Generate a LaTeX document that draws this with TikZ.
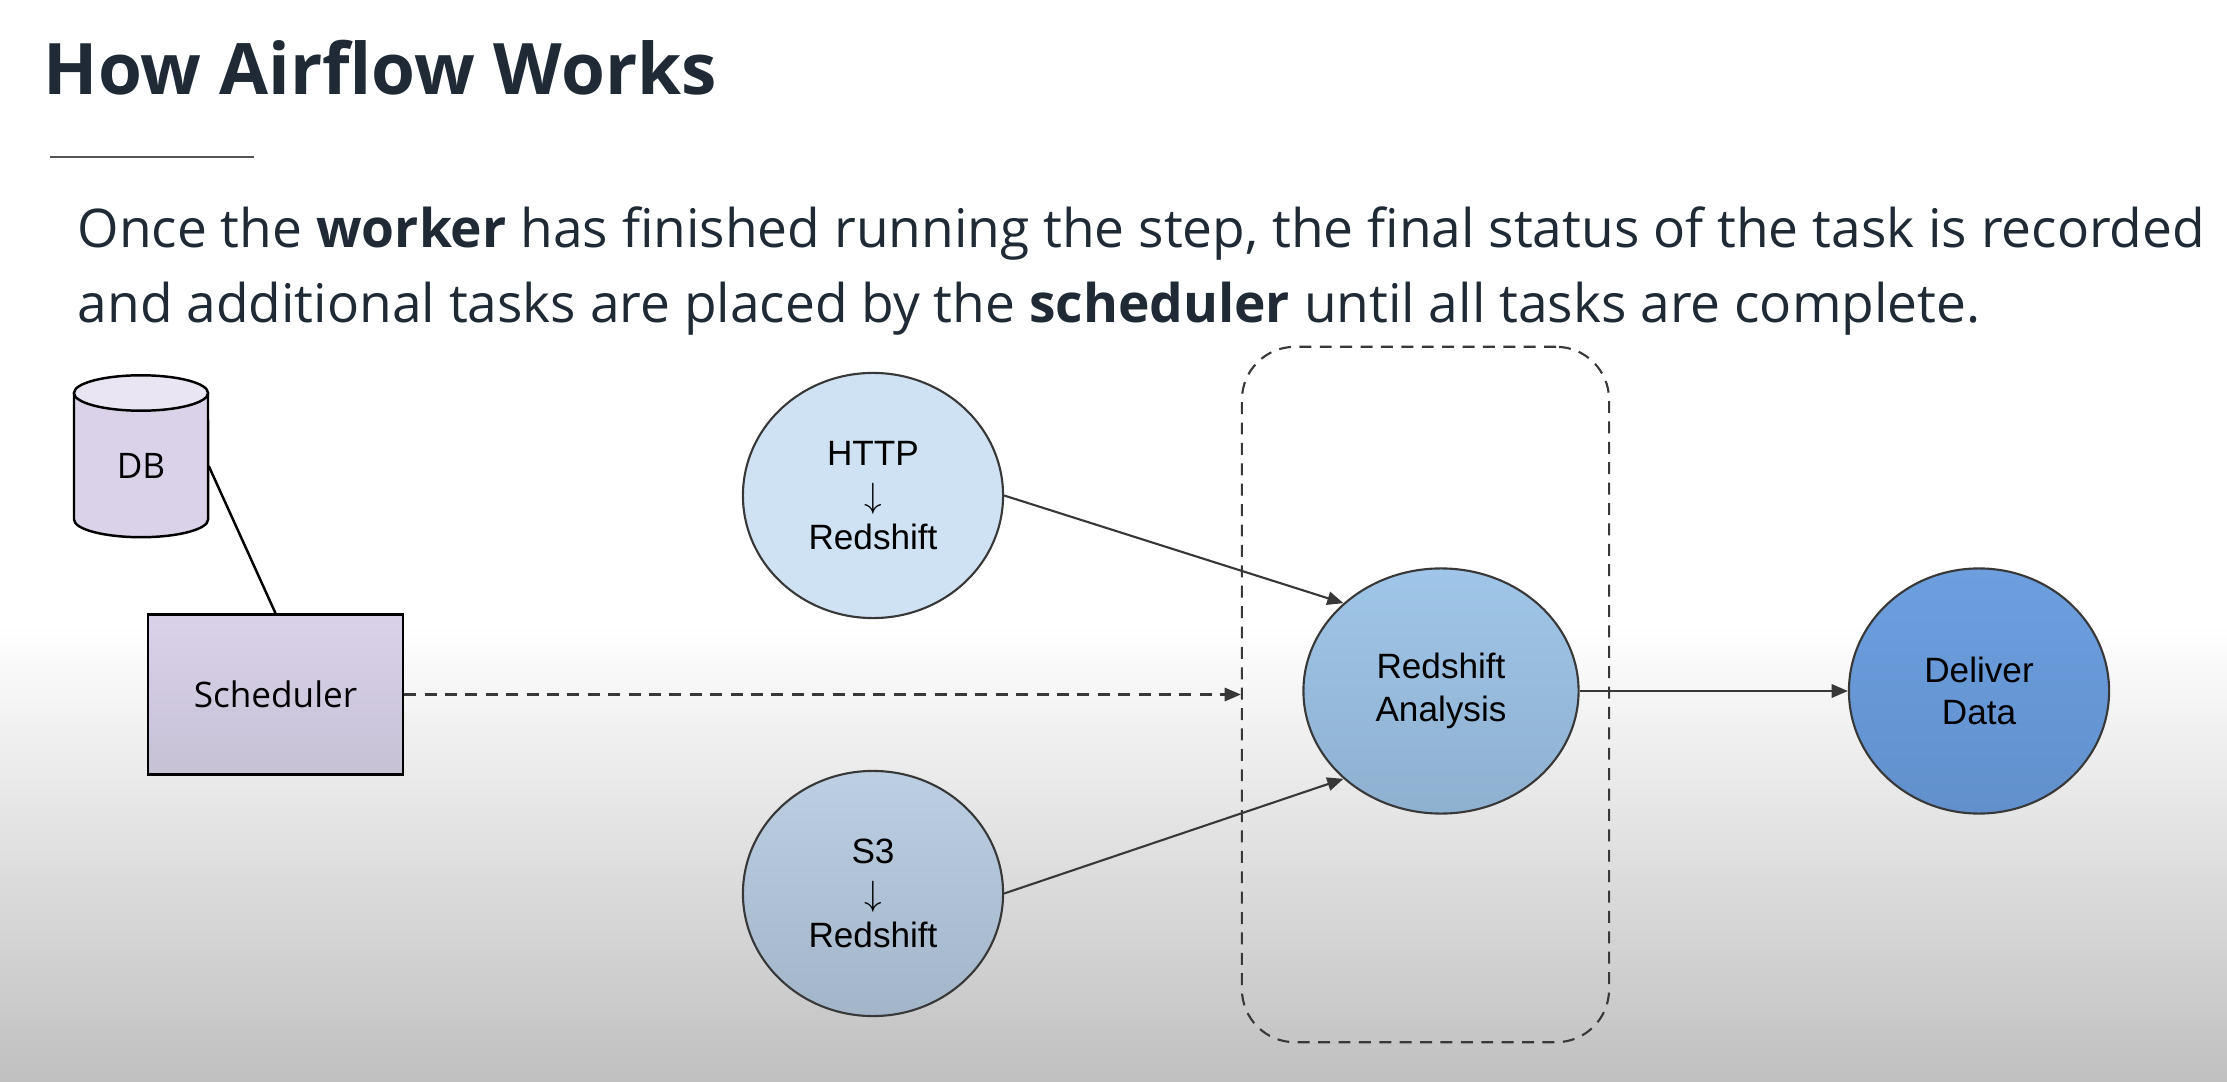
\documentclass[tikz,border=0pt]{standalone}
\usepackage{fontspec}
\setmainfont{Open Sans}
\newfontfamily\arialfont{Liberation Sans}
\usepackage{tikz}
\usetikzlibrary{arrows.meta,shapes.geometric,positioning}
\definecolor{slidetext}{HTML}{1F2A36}
\definecolor{bggray}{HTML}{C0C0C0}
\definecolor{linegray}{HTML}{383838}
\definecolor{rulegray}{HTML}{555555}
\definecolor{lavender}{HTML}{D9D2E9}
\definecolor{lavenderlow}{HTML}{C7C1D6}
\definecolor{lavendertop}{HTML}{E9E5F3}
\definecolor{httpblue}{HTML}{CFE2F3}
\definecolor{sthreetop}{HTML}{BCCFE3}
\definecolor{sthreelow}{HTML}{A3B5C8}
\definecolor{analysistop}{HTML}{9FC5E8}
\definecolor{analysislow}{HTML}{8FB1D0}
\definecolor{delivertop}{HTML}{6D9FDF}
\definecolor{deliverlow}{HTML}{6190CC}
\tikzstyle{headline}   = [anchor=base west, inner sep=0pt, text=slidetext]
\tikzstyle{dblabel}    = [minimum width=1.34cm, minimum height=0.6cm, inner sep=0pt, font=\fontsize{10}{12}\selectfont]
\tikzstyle{schedbox}   = [rectangle, draw=black, line width=0.7pt, minimum width=2.55cm, minimum height=1.6cm, top color=lavender, bottom color=lavenderlow, font=\fontsize{10}{12}\selectfont]
\tikzstyle{taskcircle} = [ellipse, draw=linegray, line width=0.6pt, minimum width=2.6cm, minimum height=2.45cm, inner sep=0pt, align=center, font=\arialfont\fontsize{10}{12}\selectfont]
\tikzstyle{workerbox}  = [rectangle, draw=linegray, line width=0.6pt, dash pattern=on 3.4pt off 2.4pt, rounded corners=0.53cm, minimum width=3.67cm, minimum height=6.95cm]
\tikzstyle{taskarrow}  = [draw=linegray, line width=0.6pt, -{Triangle[length=4.6pt, width=3.8pt]}]
\tikzstyle{schedarrow} = [taskarrow, dash pattern=on 3.4pt off 2.4pt]
\begin{document}
\begin{tikzpicture}[x=0.01cm, y=0.01cm]
		\useasboundingbox (0,0) rectangle (2227,1081);
		\fill[white] (0,0) rectangle (2227,1081);
		\shade[top color=white, bottom color=bggray] (0,0) rectangle (2227,456);

		\node[headline] (title) at (43,986) {\fontsize{20.2}{24}\selectfont\bfseries How Airflow Works};
		\draw[rulegray, line width=0.6pt] (50,924) -- (254,924);
		\node[headline] (lineone) at (77,833) {\fontsize{15.15}{18}\selectfont Once the \textbf{worker} has finished running the step, the final status of the task is recorded};
		\node[headline] (linetwo) at (77,758) {\fontsize{15.15}{18}\selectfont and additional tasks are placed by the \textbf{scheduler} until all tasks are complete.};

		\fill[lavender] (74,688) rectangle (208,561.5);
		\fill[lavender] (141,561.5) ellipse [x radius=0.67cm, y radius=0.177cm];
		\draw[line width=0.7pt] (74,688) -- (74,561.5) arc[start angle=180, end angle=360, x radius=0.67cm, y radius=0.177cm] -- (208,688);
		\draw[line width=0.7pt, fill=lavendertop] (141,688) ellipse [x radius=0.67cm, y radius=0.177cm];
		\node[dblabel] (db) at (141,615) {DB};
		\node[schedbox] (sched) at (275.5,386.5) {Scheduler};

		\node[taskcircle, fill=httpblue] (http) at (873,585.5) {HTTP\\$\downarrow$\\Redshift};
		\node[taskcircle, top color=sthreetop, bottom color=sthreelow] (s3) at (873,187.5) {S3\\$\downarrow$\\Redshift};
		\node[workerbox] (worker) at (1425.5,386.5) {};
		\node[taskcircle, minimum width=2.75cm, top color=analysistop, bottom color=analysislow] (analysis) at (1441,390) {Redshift\\Analysis};
		\node[taskcircle, top color=delivertop, bottom color=deliverlow] (deliver) at (1979,390) {Deliver\\Data};

		\draw[line width=0.7pt] (db.east) -- (sched.north);
		\draw[schedarrow] (sched) -- (worker);
		\draw[taskarrow] (http.east) -- (analysis.138);
		\draw[taskarrow] (s3.east) -- (analysis.222);
		\draw[taskarrow] (analysis.east) -- (deliver.west);
	\end{tikzpicture}
\end{document}
